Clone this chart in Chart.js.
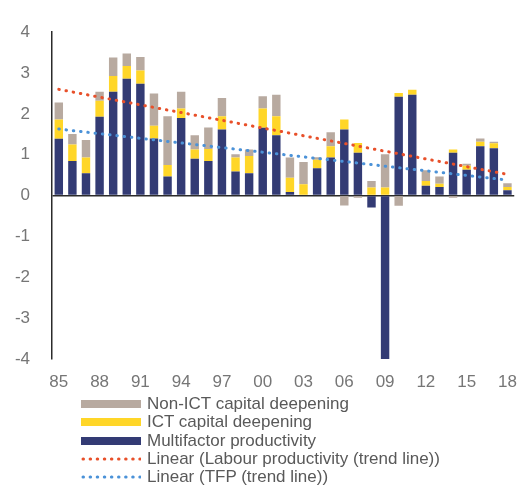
<!DOCTYPE html>
<html>
<head>
<meta charset="utf-8">
<script src="https://cdn.jsdelivr.net/npm/chart.js@4.4.1/dist/chart.umd.min.js"></script>
<style>
    body { margin: 0; background: #fff; }
    #wrap { position: relative; width: 530px; height: 495px; }
    #legend { position: absolute; left: 81px; top: 395px; font-family: "Liberation Sans", Arial, sans-serif; font-size: 17px; color: #595959; }
    .row { height: 18.3px; display: flex; align-items: center; white-space: nowrap; }
    .row svg { margin-right: 6px; flex: none; }
</style>
</head>
<body>
<div id="wrap">
    <canvas id="chart" width="530" height="495"></canvas>
    <div id="legend"></div>
</div>
<script>
// Years 1985-2018
const years = [
    "1985", "1986", "1987", "1988", "1989", "1990", "1991", "1992", "1993", "1994",
    "1995", "1996", "1997", "1998", "1999", "2000", "2001", "2002", "2003", "2004",
    "2005", "2006", "2007", "2008", "2009", "2010", "2011", "2012", "2013", "2014",
    "2015", "2016", "2017", "2018"
];

// contributions, percentage points
const multifactor = [
    1.39, 0.85, 0.55, 1.93, 2.54, 2.86, 2.74, 1.40, 0.47, 1.90,
    0.90, 0.85, 1.62, 0.59, 0.55, 1.66, 1.48, 0.09, 0.00, 0.67,
    0.93, 1.62, 1.05, -0.29, -4.00, 2.42, 2.47, 0.24, 0.21, 1.05,
    0.63, 1.21, 1.16, 0.13
];
const ictCapital = [
    0.47, 0.40, 0.38, 0.39, 0.39, 0.31, 0.32, 0.31, 0.28, 0.23,
    0.23, 0.29, 0.32, 0.34, 0.42, 0.47, 0.46, 0.35, 0.28, 0.21,
    0.28, 0.24, 0.24, 0.20, 0.20, 0.09, 0.12, 0.12, 0.08, 0.08,
    0.10, 0.11, 0.12, 0.08
];
const nonIctCapital = [
    0.42, 0.26, 0.43, 0.22, 0.45, 0.31, 0.33, 0.79, 1.19, 0.41,
    0.35, 0.53, 0.45, 0.08, 0.16, 0.30, 0.53, 0.49, 0.54, 0.06,
    0.34, -0.24, -0.05, 0.16, 0.81, -0.25, 0.00, 0.26, 0.18, -0.05,
    0.05, 0.08, 0.04, 0.09
];

// trend lines: value at 1985 and at 2018
const labourTrendEnds = [2.60, 0.52];
const tfpTrendEnds = [1.63, 0.38];

const yTicks = [-4, -3, -2, -1, 0, 1, 2, 3, 4];

const endsToSeries = (ends) => years.map((y, i) =>
    i === 0 ? ends[0] : (i === years.length - 1 ? ends[1] : null));

const navy = "#333b74";
const yellow = "#ffd628";
const taupe = "#b8aaa0";
const red = "#e8502a";
const blue = "#4b92d8";
const font = { family: "'Liberation Sans', Arial, sans-serif", size: 17 };

const dotted = (label, ends, color, stackName) => ({
    type: "line",
    label: label,
    data: endsToSeries(ends),
    stack: stackName, // own stack so the trend lines don't pile up
    borderColor: color,
    backgroundColor: color,
    borderWidth: 3,
    borderDash: [0.5, 6.8],
    borderCapStyle: "round",
    pointRadius: 0,
    spanGaps: true,
    fill: false,
    order: -1,
});

const bar = (label, data, color) => ({
    type: "bar",
    label: label,
    data: data,
    backgroundColor: color,
    stack: "s",
    barPercentage: 0.62,
    categoryPercentage: 1,
});

const chart = new Chart(document.getElementById("chart"), {
    data: {
        labels: years,
        datasets: [
            bar("Multifactor productivity", multifactor, navy),
            bar("ICT capital deepening", ictCapital, yellow),
            bar("Non-ICT capital deepening", nonIctCapital, taupe),
            dotted("Linear (Labour productivity (trend line))", labourTrendEnds, red, "labour"),
            dotted("Linear (TFP (trend line))", tfpTrendEnds, blue, "tfp"),
        ],
    },
    options: {
        responsive: false,
        animation: false,
        devicePixelRatio: 1,
        layout: { padding: { top: 24, right: 7, bottom: 100, left: 0 } },
        scales: {
            x: {
                stacked: true,
                grid: { display: false, drawTicks: false },
                border: { display: false },
                afterFit: (s) => { s.height = 36; },
                ticks: {
                    autoSkip: false,
                    maxRotation: 0,
                    padding: 13,
                    color: "#767676",
                    font: font,
                    callback: (v, i) => (i % 3 === 0 ? years[i].slice(2) : ""),
                },
            },
            y: {
                stacked: true,
                min: -4,
                max: 4,
                afterFit: (s) => { s.width = 52; },
                afterBuildTicks: (s) => { s.ticks = yTicks.map((v) => ({ value: v })); },
                border: { display: true, color: "#2b2b2b", width: 1.5 },
                grid: {
                    drawTicks: false,
                    lineWidth: 1.5,
                    color: (c) => (c.tick && c.tick.value === 0 ? "#2b2b2b" : "transparent"),
                },
                ticks: { padding: 22, color: "#767676", font: font },
            },
        },
        plugins: {
            legend: { display: false },
            tooltip: { enabled: false },
        },
    },
});

// legend below the chart, listed like the original
const legendOrder = [2, 1, 0, 3, 4];
const legendBox = document.getElementById("legend");
legendOrder.forEach((idx) => {
    const ds = chart.data.datasets[idx];
    const row = document.createElement("div");
    row.className = "row";
    const swatch = ds.type === "bar"
        ? `<svg width="60" height="10"><rect x="0" y="1" width="60" height="8" fill="${ds.backgroundColor}"/></svg>`
        : `<svg width="60" height="10"><line x1="2" y1="5" x2="59" y2="5" stroke="${ds.borderColor}" stroke-width="3" stroke-linecap="round" stroke-dasharray="0.5 6.6"/></svg>`;
    row.innerHTML = swatch + "<span></span>";
    row.querySelector("span").textContent = ds.label;
    legendBox.appendChild(row);
});
</script>
</body>
</html>
